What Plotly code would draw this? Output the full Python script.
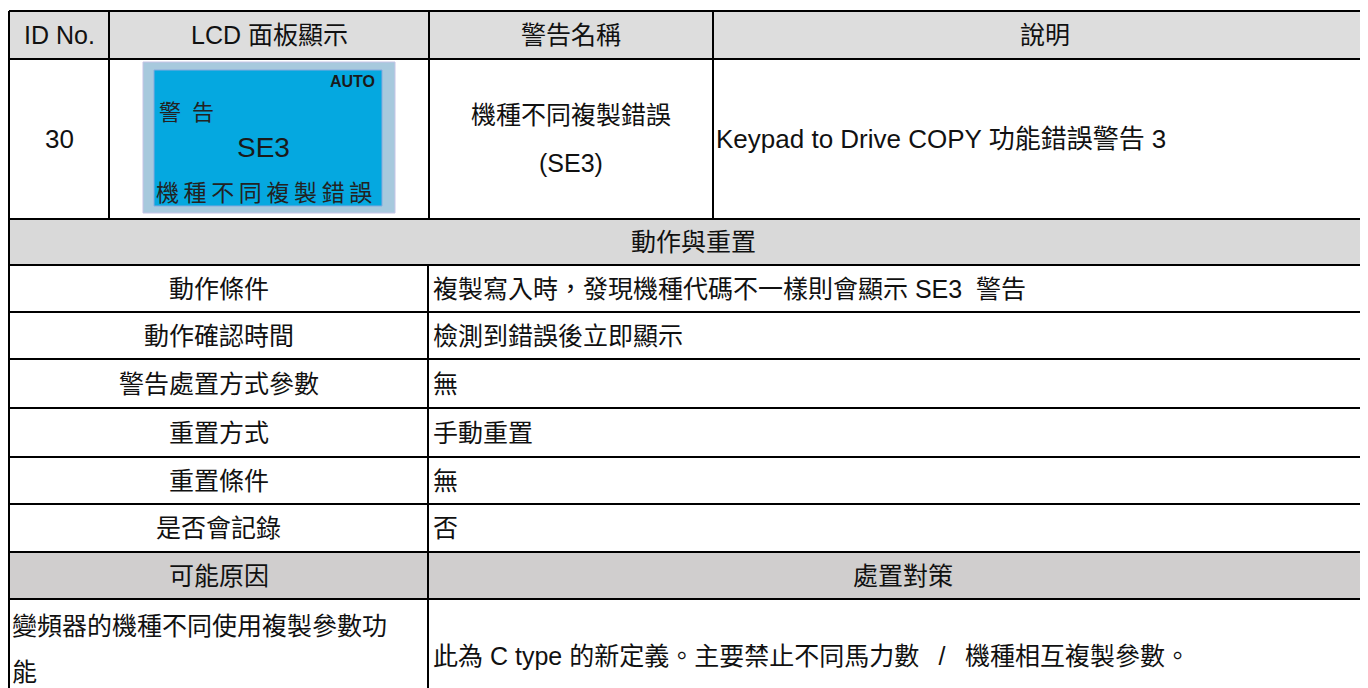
import plotly.graph_objects as go

# ---------------- data (table contents) ----------------
header_labels = ["ID No.", "LCD 面板顯示", "警告名稱", "說明"]
alarm_id = "30"
lcd_mode = "AUTO"
lcd_title = "警\u2002告"
lcd_code = "SE3"
lcd_message = "\u2009".join("機種不同複製錯誤")
alarm_name_lines = ["機種不同複製錯誤", "(SE3)"]
alarm_desc = "Keypad to Drive COPY 功能錯誤警告 3"
section_title = "動作與重置"
action_labels = ["動作條件", "動作確認時間", "警告處置方式參數", "重置方式", "重置條件", "是否會記錄"]
action_values = ["複製寫入時，發現機種代碼不一樣則會顯示 SE3\u00a0 警告",
                 "檢測到錯誤後立即顯示", "無", "手動重置", "無", "否"]
cause_header = "可能原因"
remedy_header = "處置對策"
cause_lines = ["變頻器的機種不同使用複製參數功", "能"]
remedy_text = "此為 C type 的新定義。主要禁止不同馬力數\u00a0\u2002/\u2002\u00a0機種相互複製參數。"

# ---------------- layout geometry ----------------
W, H = 1368, 688
BODY = 8                                   # default page margin of the browser
X_TOP = [9, 109, 429, 713, 1377]          # column edges, top block
X_SPLIT = 428                             # column split, lower block
Y = [11, 59, 219, 265, 312, 359, 408, 457, 504, 552, 599, 740]  # row edges
LEFT, RIGHT = X_TOP[0], X_TOP[-1]

FONT = "Liberation Sans, Arial, 'Noto Sans CJK TC', sans-serif"
FS = 25
TXT = "#111111"
HEAD_FILL = "#DDDDDD"
SECT_FILL = "#D9D9D9"
CAUSE_FILL = "#D0CECE"

fig = go.Figure()
shapes = []
ann = []


def rect(x0, y0, x1, y1, fill, line=None, lw=0):
    shapes.append(dict(type="rect", x0=x0, y0=y0, x1=x1, y1=y1, xref="x", yref="y",
                       fillcolor=fill, line=dict(color=line or fill, width=lw),
                       layer="below"))


def hline(y, x0=LEFT, x1=RIGHT):
    shapes.append(dict(type="line", x0=x0, x1=x1, y0=y, y1=y, xref="x", yref="y",
                       line=dict(color="#000000", width=2)))


def vline(x, y0, y1):
    shapes.append(dict(type="line", x0=x, x1=x, y0=y0, y1=y1, xref="x", yref="y",
                       line=dict(color="#000000", width=2)))


def text(x, y, s, size=FS, anchor="center", color=TXT, family=FONT, bold=False):
    if bold:
        s = "<b>" + s + "</b>"
    ann.append(dict(x=x, y=y, xref="x", yref="y", text=s, showarrow=False,
                    xanchor=anchor, yanchor="middle",
                    font=dict(family=family, size=size, color=color)))


# fills
rect(LEFT, Y[0], RIGHT, Y[1], HEAD_FILL)
rect(LEFT, Y[2], RIGHT, Y[3], SECT_FILL)
rect(LEFT, Y[9], RIGHT, Y[10], CAUSE_FILL)

# LCD panel picture
rect(143, 62, 395, 213, "#A7C9DD", "#C6C4E6", 1)
rect(154, 70, 382, 206, "#05A8E0", "#86A9DE", 1)

# grid lines
for yy in Y[:-1]:
    hline(yy)
vline(LEFT, Y[0], Y[-1])
for xx in X_TOP[1:-1]:
    vline(xx, Y[0], Y[2])
vline(X_SPLIT, Y[3], Y[-1])

# header row
cy = (Y[0] + Y[1]) / 2
for i, lab in enumerate(header_labels):
    text((X_TOP[i] + X_TOP[i + 1]) / 2, cy, lab)

# alarm row
cy = (Y[1] + Y[2]) / 2
text((X_TOP[0] + X_TOP[1]) / 2, cy, alarm_id, size=26)
text(377, 81, lcd_mode, size=16, anchor="right", color="#1a1a1a", bold=True)
text(157, 112, lcd_title, size=22, anchor="left", color="#222222")
text(263, 147, lcd_code, size=28, color="#1a1a1a")
text(154, 193, lcd_message, size=23, anchor="left", color="#222222")
mid_name = (X_TOP[2] + X_TOP[3]) / 2
text(mid_name, cy - 24, alarm_name_lines[0])
text(mid_name, cy + 24, alarm_name_lines[1])
text(X_TOP[3] + 1, cy, alarm_desc, size=26, anchor="left")

# section title
text((LEFT + RIGHT) / 2, (Y[2] + Y[3]) / 2, section_title)

# action rows
for k, (lab, val) in enumerate(zip(action_labels, action_values)):
    y0, y1 = Y[3 + k], Y[4 + k]
    cy = (y0 + y1) / 2
    text((LEFT + X_SPLIT) / 2, cy, lab)
    text(X_SPLIT + 3, cy, val, anchor="left")

# cause / remedy header
cy = (Y[9] + Y[10]) / 2
text((LEFT + X_SPLIT) / 2, cy, cause_header)
text((X_SPLIT + RIGHT) / 2, cy, remedy_header)

# cause / remedy row
text(LEFT + 1, 626, cause_lines[0], anchor="left")
text(LEFT + 1, 672, cause_lines[1], anchor="left")
text(X_SPLIT + 3, 656, remedy_text, anchor="left")

# figure sits at (BODY, BODY) on the page; map data units to window pixels
fig.update_layout(
    width=W - BODY, height=H - BODY, autosize=False,
    margin=dict(l=0, r=0, t=0, b=0, pad=0),
    paper_bgcolor="white", plot_bgcolor="white",
    xaxis=dict(range=[BODY, W], visible=False, fixedrange=True),
    yaxis=dict(range=[H, BODY], visible=False, fixedrange=True),
    shapes=shapes, annotations=ann, showlegend=False,
)

fig.write_html("out.html", config={"displayModeBar": False})
